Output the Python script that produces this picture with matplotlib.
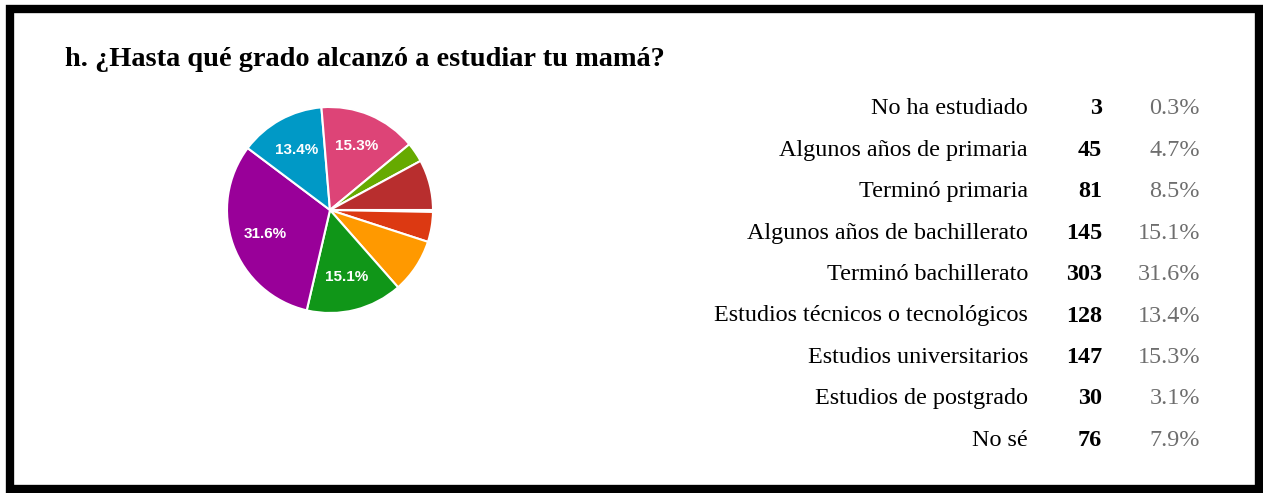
import matplotlib.pyplot as plt
from matplotlib.patches import Rectangle

# respuestas de la pregunta h
categories = ['No ha estudiado', 'Algunos años de primaria', 'Terminó primaria',
              'Algunos años de bachillerato', 'Terminó bachillerato',
              'Estudios técnicos o tecnológicos', 'Estudios universitarios',
              'Estudios de postgrado', 'No sé']
counts = [3, 45, 81, 145, 303, 128, 147, 30, 76]
percents = [0.3, 4.7, 8.5, 15.1, 31.6, 13.4, 15.3, 3.1, 7.9]
colors = ['#3366cc', '#dc3912', '#ff9900', '#109618', '#990099',
          '#0099c6', '#dd4477', '#66aa00', '#b82e2e']

W, H = 1263, 493
fig = plt.figure(figsize=(W / 100, H / 100), dpi=100)

def fx(px):
    return px / W

def fy(py):
    return 1 - py / H

# marco negro
fig.patches.append(Rectangle((fx(10), fy(489)), fx(1249), 480 / H, transform=fig.transFigure,
                             fill=False, edgecolor='black', linewidth=6))

fig.text(fx(65), fy(59), 'h. \u00bfHasta qué grado alcanzó a estudiar tu mamá?',
         family='Liberation Serif', fontweight='bold', fontsize=20.4, va='center', ha='left')

# torta
cx, cy, half = 330, 210, 124
ax = fig.add_axes([fx(cx - half), fy(cy + half), 2 * half / W, 2 * half / H])
wedges, texts, autotexts = ax.pie(
    percents, colors=colors, startangle=0, counterclock=False, radius=103 / half * 1.2,
    autopct=lambda p: f'{p:.1f}%' if p > 10 else '', pctdistance=0.67,
    wedgeprops=dict(edgecolor='white', linewidth=1.5),
    textprops=dict(color='white', fontsize=11, fontweight='bold', family='Liberation Sans'))
ax.set_xlim(-1.2, 1.2)
ax.set_ylim(-1.2, 1.2)
ax.axis('off')

# tabla de la derecha
row0, step = 109, 41.4
for i, (cat, n, p) in enumerate(zip(categories, counts, percents)):
    y = fy(row0 + i * step)
    fig.text(fx(1028), y, cat, family='Liberation Serif', fontsize=17.4, ha='right', va='center')
    fig.text(fx(1102), y, str(n), family='Liberation Serif', fontsize=17.4, fontweight='bold',
             ha='right', va='center')
    fig.text(fx(1200), y, f'{p:.1f}%', family='Liberation Serif', fontsize=17.4, color='#6e6e6e',
             ha='right', va='center')

fig.savefig('out.png', dpi=100, facecolor='white')
